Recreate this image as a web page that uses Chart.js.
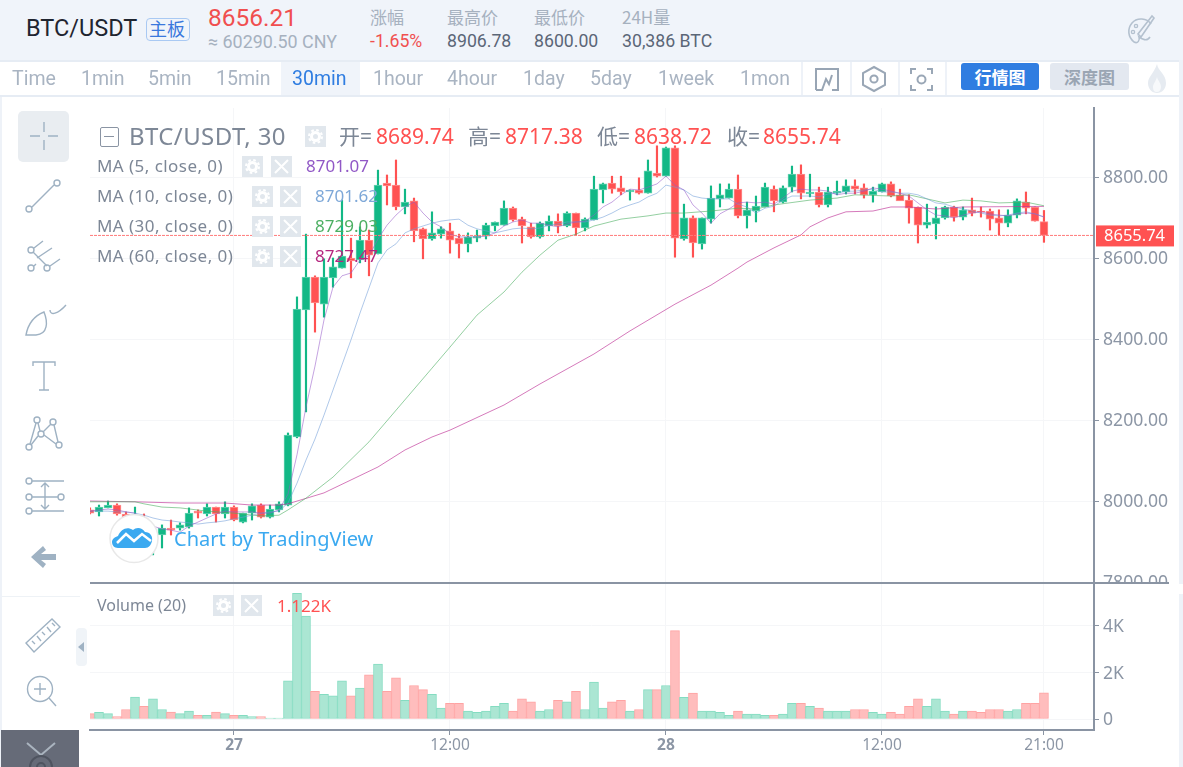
<!DOCTYPE html>
<html lang="zh">
<head>
<meta charset="utf-8">
<title>BTC/USDT</title>
<script src="https://cdn.jsdelivr.net/npm/chart.js@4"></script>
<style>
html,body{margin:0;padding:0;background:#fff;}
#page{position:relative;width:1183px;height:767px;overflow:hidden;background:#fff;font-family:Roboto,"Noto Sans CJK SC",sans-serif;}
#page canvas{position:absolute;left:0;top:0;}
.t{position:absolute;white-space:nowrap;line-height:1;}
.box{position:absolute;}
.cn{font-family:"Noto Sans CJK SC",sans-serif;}
.tv{font-family:"Noto Sans","Noto Sans CJK SC",sans-serif;color:#7d8796;}
.tab{position:absolute;top:69px;font-size:19.5px;line-height:20px;color:#a9b4c2;white-space:nowrap;}
svg{position:absolute;overflow:visible;}
svg.ic *{fill:none;stroke:#9fb2c3;stroke-width:1.4;}
</style>
</head>
<body>
<div id="page">
<canvas id="c" width="1183" height="767"></canvas>
<div id="ui"></div>
</div>
<script>
// ---- chart values (USDT), one entry per 30 minute bar ----
const opens=[7978,7973,7983,7990,7968,7943,7958,7901,7916,7933,7933,7936,7975,7968,7985,7968,7985,7948,7970,7990,7960,7978,7990,8158,8472,8553,8486,8551,8575,8600,8595,8644,8610,8785,8780,8726,8741,8672,8647,8659,8667,8649,8635,8649,8654,8679,8681,8723,8696,8677,8652,8679,8691,8679,8711,8674,8694,8768,8785,8773,8763,8768,8760,8810,8802,8872,8647,8699,8635,8696,8746,8748,8770,8704,8716,8726,8770,8738,8775,8807,8758,8763,8731,8760,8763,8778,8773,8756,8763,8783,8756,8743,8726,8681,8684,8699,8726,8701,8719,8716,8716,8699,8686,8706,8738,8726,8689.74];
const highs=[7983,7990,8000,7993,7973,7985,7968,7921,7941,7953,7946,7983,7978,7993,7985,7998,7988,7970,7993,7993,7990,7998,8168,8504,8659,8556,8598,8600,8743,8649,8677,8669,8817,8805,8842,8770,8748,8674,8714,8677,8686,8659,8662,8669,8686,8689,8741,8726,8701,8686,8689,8704,8709,8714,8711,8699,8802,8785,8802,8802,8768,8798,8842,8877,8874,8877,8733,8704,8699,8778,8783,8783,8805,8738,8753,8785,8778,8778,8827,8830,8807,8775,8775,8790,8793,8793,8783,8775,8785,8788,8770,8756,8726,8733,8726,8728,8728,8726,8748,8726,8721,8719,8719,8746,8763,8726,8717.38];
const lows=[7968,7963,7983,7965,7943,7938,7894,7867,7884,7916,7928,7933,7958,7963,7948,7958,7951,7946,7953,7958,7958,7973,7988,8156,8220,8417,8454,8528,8575,8551,8588,8556,8610,8731,8719,8709,8640,8598,8644,8649,8612,8600,8615,8640,8647,8667,8681,8691,8637,8649,8649,8667,8662,8677,8657,8667,8694,8736,8760,8756,8743,8758,8760,8800,8802,8602,8644,8602,8622,8686,8726,8748,8699,8674,8689,8726,8714,8736,8763,8746,8751,8726,8726,8756,8758,8758,8748,8738,8763,8751,8743,8686,8637,8674,8647,8696,8691,8694,8704,8701,8669,8657,8677,8699,8709,8691,8638.72];
const closes=[7970,7985,7990,7968,7948,7958,7904,7916,7933,7928,7941,7970,7970,7985,7968,7985,7953,7970,7988,7960,7980,7993,8163,8474,8553,8489,8553,8578,8605,8593,8644,8607,8780,8778,8726,8738,8667,8647,8662,8672,8644,8635,8652,8654,8681,8689,8723,8694,8679,8652,8686,8691,8679,8711,8674,8696,8770,8783,8770,8763,8768,8760,8815,8802,8872,8649,8699,8637,8699,8748,8756,8770,8704,8719,8728,8775,8741,8773,8807,8760,8763,8731,8763,8765,8778,8770,8756,8765,8783,8753,8741,8723,8681,8689,8699,8726,8701,8719,8711,8714,8696,8686,8706,8741,8723,8691,8655.74];
const volumes=[230,290,230,100,410,940,540,870,410,300,230,340,160,160,300,230,160,160,100,100,40,40,1640,5400,4430,1190,1060,1000,1640,1000,1330,1900,2360,1190,1770,800,1440,1260,1060,470,670,670,340,290,340,540,670,340,870,740,340,410,800,740,1190,410,1590,470,740,800,340,410,1260,1260,1440,3800,930,1110,340,340,290,160,340,210,210,160,160,210,670,670,540,470,340,340,340,410,410,290,210,290,210,540,870,540,870,340,210,340,340,290,410,410,340,410,670,670,1122];
const ma5=[7975,7978,7980,7978,7973,7970,7953,7938,7931,7928,7923,7938,7948,7958,7968,7975,7973,7973,7973,7970,7970,7978,8017,8114,8232,8333,8447,8528,8556,8563,8595,8605,8647,8681,8706,8726,8738,8711,8689,8677,8659,8652,8652,8652,8654,8662,8679,8689,8694,8686,8686,8681,8677,8684,8689,8691,8706,8726,8738,8756,8770,8768,8775,8783,8802,8780,8768,8731,8711,8686,8709,8721,8736,8738,8736,8738,8733,8748,8765,8770,8768,8768,8765,8756,8760,8760,8765,8773,8770,8765,8760,8753,8736,8719,8706,8704,8699,8706,8711,8714,8709,8706,8704,8709,8711,8709,8701.07];
const ma10=[7975,7975,7975,7973,7973,7970,7965,7958,7953,7951,7948,7946,7943,7946,7948,7951,7956,7960,7965,7970,7973,7975,7995,8044,8101,8153,8212,8274,8336,8398,8464,8526,8588,8620,8635,8662,8672,8679,8686,8691,8694,8696,8681,8672,8667,8662,8667,8672,8674,8672,8674,8681,8684,8689,8689,8689,8694,8701,8711,8723,8731,8738,8751,8760,8780,8775,8768,8753,8748,8746,8746,8746,8733,8726,8711,8723,8728,8743,8753,8753,8753,8751,8758,8760,8765,8765,8768,8770,8763,8763,8760,8760,8756,8746,8736,8733,8726,8721,8716,8711,8706,8704,8706,8711,8714,8709,8701.62];
const ma30Bars=[0,5,6,8,10,13,16,19,21,22,24,27,31,38,40,43,46,48,50,52,54,56,59,62,64,66,69,72,74,76,80,83,85,89,91,95,97,99,101,104,106];
const ma30=[7998,7998,7993,7985,7983,7975,7970,7963,7965,7978,8007,8059,8146,8328,8380,8459,8516,8565,8607,8644,8659,8679,8696,8704,8711,8711,8716,8723,8721,8731,8743,8748,8756,8753,8756,8736,8743,8741,8736,8738,8729.03];
const ma60Bars=[0,5,10,15,18,21,22,26,29,32,35,38,40,46,50,56,60,65,69,72,73,76,79,80,82,84,87,89,91,94,97,106];
const ma60=[8000,7998,7995,7995,7990,7990,7993,8020,8052,8084,8126,8158,8175,8237,8289,8363,8420,8486,8533,8575,8590,8625,8657,8677,8699,8714,8716,8726,8726,8721,8726,8727.47];
const lastClose=8655.74;
const priceTicks=[7800,8000,8200,8400,8600,8800];
const volumeTicks=[0,2000,4000];
const volumeTickLabels=['0','2K','4K'];
const timeTickBars=[16,40,64,88,106];
const timeTickLabels=['27','12:00','28','12:00','21:00'];
const symbolName='BTC/USDT';
const headerStats=[['涨幅','-1.65%'],['最高价','8906.78'],['最低价','8600.00'],['24H量','30,386 BTC']];
const tabNames=['Time','1min','5min','15min','30min','1hour','4hour','1day','5day','1week','1mon'];
const ohlcLabels=[['开=','8689.74'],['高=','8717.38'],['低=','8638.72'],['收=','8655.74']];
const maRows=[['MA (5, close, 0)','8701.07'],['MA (10, close, 0)','8701.62'],['MA (30, close, 0)','8729.03'],['MA (60, close, 0)','8727.47']];

// ---- chart ----
const GREEN='#12b886',RED='#ff5252';
const up=i=>closes[i]>=opens[i];
const idx=opens.map((_,i)=>i);
const AXIS='#8a94a3',GRID='#f5f6f8',TICKTXT='#8c96a5';
const axisFont={family:'"Noto Sans",sans-serif',size:17.6};

const priceTag={id:'priceTag',afterDraw(chart){
  const s=chart.scales.y,c=chart.ctx,y=s.getPixelForValue(lastClose);
  c.save();c.fillStyle=RED;
  c.fillRect(s.left+2,y-10,78,21);
  c.fillStyle='#fff';c.font='16.5px "Noto Sans",sans-serif';c.textBaseline='middle';c.textAlign='left';
  c.fillText(lastClose.toFixed(2),s.left+10,y+1);
  c.restore();
}};

new Chart(document.getElementById('c'),{
  type:'bar',
  data:{datasets:[
    {type:'line',label:'MA5',order:1,data:idx.map(i=>({x:i,y:ma5[i]})),borderColor:'rgba(149,90,200,.55)',borderWidth:1,pointRadius:0,tension:0,yAxisID:'y'},
    {type:'line',label:'MA10',order:1,data:idx.map(i=>({x:i,y:ma10[i]})),borderColor:'rgba(110,155,215,.55)',borderWidth:1,pointRadius:0,tension:0,yAxisID:'y'},
    {type:'line',label:'MA30',order:1,data:ma30Bars.map((b,i)=>({x:b,y:ma30[i]})),borderColor:'rgba(76,175,98,.6)',borderWidth:1,pointRadius:0,tension:0,yAxisID:'y'},
    {type:'line',label:'MA60',order:1,data:ma60Bars.map((b,i)=>({x:b,y:ma60[i]})),borderColor:'rgba(190,50,150,.65)',borderWidth:1,pointRadius:0,tension:0,yAxisID:'y'},
    {type:'line',label:'Last',order:0,data:[{x:0,y:lastClose},{x:112,y:lastClose}],borderColor:'#ff7b7b',borderWidth:1,borderDash:[3,1],pointRadius:0,yAxisID:'y'},
    {type:'bar',label:'Body',order:2,grouped:false,data:idx.map(i=>({x:i,y:[opens[i],closes[i]]})),barThickness:8,borderSkipped:false,borderWidth:1,
      backgroundColor:c=>up(c.dataIndex)?GREEN:RED,borderColor:c=>up(c.dataIndex)?'#63d2b0':'#ff8f8f',yAxisID:'y'},
    {type:'bar',label:'Wick',order:3,grouped:false,data:idx.map(i=>({x:i,y:[lows[i],highs[i]]})),barThickness:1.5,borderWidth:0,
      backgroundColor:c=>up(c.dataIndex)?GREEN:RED,yAxisID:'y'},
    {type:'bar',label:'Volume',order:4,grouped:false,data:idx.map(i=>({x:i,y:volumes[i]})),barThickness:9,borderWidth:1,borderSkipped:false,
      backgroundColor:c=>up(c.dataIndex)?'#abe6d3':'#ffbdbd',borderColor:c=>up(c.dataIndex)?'#84dcc1':'#ffa3a3',yAxisID:'yVol'}
  ]},
  plugins:[priceTag],
  options:{
    responsive:false,animation:false,devicePixelRatio:1,
    layout:{padding:{left:90,top:108,right:0,bottom:0}},
    plugins:{legend:{display:false},tooltip:{enabled:false},title:{display:false}},
    scales:{
      x:{type:'linear',position:'bottom',min:0,max:111.56,offset:false,
        afterBuildTicks:s=>{s.ticks=timeTickBars.map(v=>({value:v}));},
        afterFit:s=>{s.height=37;},
        grid:{color:GRID,tickColor:AXIS,tickLength:5,lineWidth:1,offset:false},
        border:{color:AXIS,width:2},
        ticks:{autoSkip:false,maxRotation:0,color:TICKTXT,padding:1,
          font:c=>({...axisFont,size:15.5,weight:(c.index===0||c.index===2)?'bold':'normal'}),
          callback:(v,i)=>timeTickLabels[i]}},
      y:{type:'linear',position:'right',stack:'panes',stackWeight:474,weight:0,min:7800,max:8970.4,
        afterBuildTicks:s=>{s.ticks=priceTicks.map(v=>({value:v}));},
        afterFit:s=>{s.width=89;},
        grid:{color:GRID,tickColor:AXIS,tickLength:5},
        border:{color:AXIS,width:2},
        ticks:{autoSkip:false,color:TICKTXT,padding:4,labelOffset:1,font:axisFont,callback:v=>v.toFixed(2)}},
      yVol:{type:'linear',position:'right',stack:'panes',stackWeight:148,weight:1,min:-473,max:5892,
        afterBuildTicks:s=>{s.ticks=volumeTicks.map(v=>({value:v}));},
        afterFit:s=>{s.width=89;},
        grid:{color:GRID,tickColor:AXIS,tickLength:5},
        border:{color:AXIS,width:2},
        ticks:{autoSkip:false,color:TICKTXT,padding:4,labelOffset:1,font:axisFont,callback:(v,i)=>volumeTickLabels[i]}}
    }
  }
});

// ---- page furniture ----
const ui=document.getElementById('ui');
const add=h=>ui.insertAdjacentHTML('beforeend',h);
const box=(x,y,w,h,css)=>add(`<div class="box" style="left:${x}px;top:${y}px;width:${w}px;height:${h}px;${css}"></div>`);
const txt=(x,y,s,size,color,extra='',cls='')=>add(`<div class="t ${cls}" style="left:${x}px;top:${y}px;font-size:${size}px;color:${color};${extra}">${s}</div>`);

// header
box(0,0,1183,60,'background:#f0f4fa');
box(0,60,1183,2,'background:#e6ecf4');
box(0,95,1183,2,'background:#e6ecf4');
box(1179,60,4,707,'background:#eef2f8');
box(0,97,2,670,'background:#eef2f8');
txt(26,17,symbolName,23.5,'#1f2530');
box(146,18,42,21,'border:1.5px solid #a9c9f3;border-radius:4px');
txt(149,19,'主板',18,'#3a78dd','','cn');
txt(208,6,'8656.21',24.5,'#f04f4f');
txt(208,33,'≈ 60290.50 CNY',17.9,'#a6b1bf');
[370,447,534,622].forEach((x,i)=>{
  txt(x,8,headerStats[i][0],17,'#a6b1bf','','cn');
  txt(x,33,headerStats[i][1],17.7,i===0?'#f04f4f':'#5b6677');
});
add(`<svg class="ic" style="left:1127px;top:15px" width="28" height="30"><path d="M24 9C20 3 10 2 5 8C0 14 1 22 7 27C11 29 13 25 12 22C15 24 20 27 23 22" style="stroke:#b4c1cf;stroke-width:1.6"/><path d="M25 1L11 19L14 22L27 3Z" style="stroke:#b4c1cf;stroke-width:1.6"/><circle cx="9" cy="11" r="1.6" style="stroke:#b4c1cf"/><circle cx="6" cy="17" r="1.6" style="stroke:#b4c1cf"/></svg>`);

// tabs
const tabX=[12,81,148,216,292,373,447,523,590,658,740];
box(281,62,79,33,'background:#f0f4fa');
tabNames.forEach((n,i)=>add(`<div class="tab" style="left:${tabX[i]}px;${n==='30min'?'color:#2f7de1':''}">${n}</div>`));
[801,850,898,945].forEach(x=>box(x,62,2,33,'background:#eef2f8'));
add(`<svg class="ic" style="left:815px;top:68px" width="24" height="24"><path d="M1 22V1H23V22H17M1 22H7L11 11L14 16L17 7" style="stroke:#98a5b4;stroke-width:2"/></svg>`);
add(`<svg class="ic" style="left:862px;top:66px" width="24" height="26"><path d="M12 1L23 7V19L12 25L1 19V7Z" style="stroke:#9aa7b6;stroke-width:2"/><circle cx="12" cy="13" r="3.6" style="stroke:#9aa7b6;stroke-width:2"/></svg>`);
add(`<svg class="ic" style="left:910px;top:68px" width="23" height="23"><path d="M1 6V1H6M17 1H22V6M22 17V22H17M6 22H1V17" style="stroke:#9aa7b6;stroke-width:2"/><circle cx="11.5" cy="11.5" r="4" style="stroke:#9aa7b6;stroke-width:2"/></svg>`);
add(`<div class="t cn" style="left:961px;top:63px;width:78px;height:27px;line-height:27px;text-align:center;background:#2f7de1;color:#fff;font-size:17px;font-weight:700;border-radius:3px">行情图</div>`);
add(`<div class="t cn" style="left:1050px;top:63px;width:79px;height:27px;line-height:27px;text-align:center;background:#e3e8f0;color:#9aa5b3;font-size:17px;font-weight:700;border-radius:3px">深度图</div>`);
add(`<svg style="left:1146px;top:64px" width="22" height="29"><path d="M11 0C12 7 20 10 20 19C20 25 16 29 11 29C6 29 2 25 2 19C2 13 8 9 11 0Z" fill="#e6ebf1"/><path d="M11 13C12 17 15 19 15 23C15 26 13 28 11 28C8 28 7 26 7 23C7 20 10 17 11 13Z" fill="#f7f9fb"/></svg>`);

// left toolbar
box(18,111,51,51,'background:#e9edf1;border-radius:5px');
const ic=(x,y,w,h,inner)=>add(`<svg class="ic" style="left:${x}px;top:${y}px" width="${w}" height="${h}">${inner}</svg>`);
ic(24,116,40,40,'<path d="M20 6V16M20 24V34M6 20H16M24 20H34"/>');
ic(24,178,38,38,'<circle cx="5" cy="31" r="3"/><circle cx="33" cy="5" r="3"/><path d="M8 29L30 7"/>');
ic(24,238,40,38,'<circle cx="7" cy="12" r="3"/><circle cx="7" cy="30" r="3"/><circle cx="23" cy="30" r="3"/><path d="M10 10L19 3M10 28L12 26M26 28L36 21M9 14L23 28M13 20L28 10"/>');
ic(24,302,42,34,'<path d="M2 33C4 22 10 14 20 10C24 20 24 32 12 33Z"/><path d="M26 8C26 14 34 12 42 3"/>');
ic(32,360,24,32,'<path d="M1 6V2H23V6M12 2V30M7 30H17"/>');
ic(24,416,40,38,'<circle cx="5" cy="31" r="3"/><circle cx="13" cy="4" r="3"/><circle cx="17" cy="18" r="3"/><circle cx="29" cy="6" r="3"/><circle cx="35" cy="29" r="3"/><path d="M6 28L12 7M14 7L16 15M19 16L27 8M20 19L32 28M30 9L34 26M7 29L14 20"/>');
ic(24,478,42,36,'<circle cx="5" cy="3" r="3"/><circle cx="5" cy="19" r="3"/><circle cx="5" cy="33" r="3"/><circle cx="37" cy="19" r="3"/><path d="M8 3H40M8 19H34M8 33H40M21 5V31M17 9L21 5L25 9M17 27L21 31L25 27"/>');
add(`<svg style="left:31px;top:545px" width="26" height="24"><path d="M0 12L12 1L15 5L10 9H25V15H10L15 19L12 23Z" fill="#9fb2c3"/></svg>`);
box(2,596,78,1,'background:#eef2f6');
ic(24,616,38,38,'<path d="M2 27L28 3L36 11L10 36Z"/><path d="M8 25L11 28M13 20L17 25M18 16L21 19M23 11L27 16M28 7L31 10"/>');
box(76,628,11,38,'background:#f0f4f8;border-radius:4px');
add(`<svg style="left:78px;top:642px" width="6" height="10"><path d="M6 0L0 5L6 10Z" fill="#9fb2c3"/></svg>`);
ic(25,675,32,32,'<circle cx="15" cy="14" r="12.5"/><path d="M9 14H21M15 8V20M24 23L31 31"/>');
box(1,730,78,37,'background:#666b78');
add(`<svg style="left:26px;top:742px" width="30" height="25" fill="none" stroke="#aab4bf" stroke-width="2"><path d="M1 1L15 13L29 1"/><circle cx="15" cy="25" r="11" stroke="#4f5460"/><circle cx="15" cy="25" r="4" stroke="#4f5460"/></svg>`);

// pane separator + clip of the lowest price label
box(1100,584,83,10,'background:#fff');
box(90,581.5,1079,2,'background:#8a94a3');

// legend
box(100,127,17,18,'border:1.5px solid #8a94a3;border-radius:2px');
box(104,135.5,10,1.5,'background:#8a94a3');
txt(129,124,'BTC/USDT, 30',24,'#7d8796','letter-spacing:.4px','tv');
const gear=(x,y)=>add(`<svg style="left:${x}px;top:${y}px" width="21" height="21"><rect width="21" height="21" fill="#e1e7ed"/><circle cx="10.5" cy="10.5" r="4" fill="none" stroke="#fff" stroke-width="3"/><circle cx="10.5" cy="10.5" r="6.5" fill="none" stroke="#fff" stroke-width="2" stroke-dasharray="2.6 2.5"/></svg>`);
const cross=(x,y)=>add(`<svg style="left:${x}px;top:${y}px" width="21" height="21"><rect width="21" height="21" fill="#e1e7ed"/><path d="M4 4L17 17M17 4L4 17" stroke="#fff" stroke-width="2"/></svg>`);
gear(305,126);
[[339,376],[468,505],[597,634],[727,763]].forEach((p,i)=>{
  txt(p[0],126,ohlcLabels[i][0],21,'#7d8796','','tv');
  txt(p[1],126,ohlcLabels[i][1],21,RED,'','tv');
});
const maColor=['#9158c6','#7ea8d8','#4caf62','#b5267f'];
const maGear=[242,252,252,252],maCross=[271,280,280,280],maVal=[306,315,315,315];
maRows.forEach((r,i)=>{
  const y=166+30*i;
  txt(97,y-9,r[0],17,'#7d8796','letter-spacing:.45px','tv');
  gear(maGear[i],y-10);cross(maCross[i],y-10);
  txt(maVal[i],y-9,r[1],17,maColor[i],'','tv');
});
txt(97,597,'Volume (20)',16,'#7d8796','','tv');
gear(213,595);cross(241,595);
txt(277,597,'1.122K',17,RED,'','tv');

// watermark
add(`<svg style="left:109px;top:514px" width="50" height="49"><circle cx="25" cy="24.5" r="24" fill="#fff" stroke="#e8e8e8" stroke-width="1.5"/><path d="M9 34C5 34 3 31 3 28C3 25 6 23 9 22C12 15 18 12 24 16C27 13 33 13 36 18C41 18 44 22 43 27C42 31 40 34 36 34Z" fill="#3ba9f0"/><path d="M8 29L17 20L25 27L33 20L42 27" fill="none" stroke="#fff" stroke-width="2.5"/></svg>`);
txt(174,529,'Chart by TradingView',20,'#3ba9f0','','tv');
</script>
</body>
</html>
